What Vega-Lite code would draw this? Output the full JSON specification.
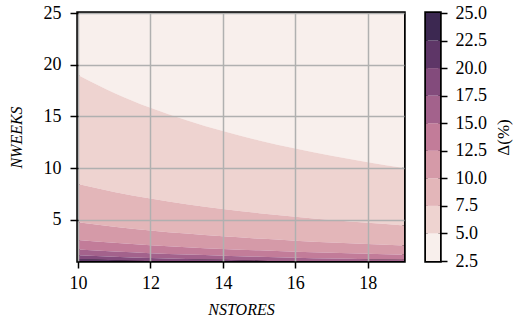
{
  "$schema": "https://vega.github.io/schema/vega-lite/v6.json",
  "background": "white",
  "padding": {"left": 6, "top": 2, "right": 2, "bottom": 2},
  "spacing": 18,
  "datasets": {
    "bands": [
      {"band": "2.5–5.0", "x": 10, "lo": 19.00, "hi": 25},
      {"band": "2.5–5.0", "x": 11, "lo": 17.27, "hi": 25},
      {"band": "2.5–5.0", "x": 12, "lo": 15.83, "hi": 25},
      {"band": "2.5–5.0", "x": 13, "lo": 14.62, "hi": 25},
      {"band": "2.5–5.0", "x": 14, "lo": 13.57, "hi": 25},
      {"band": "2.5–5.0", "x": 15, "lo": 12.67, "hi": 25},
      {"band": "2.5–5.0", "x": 16, "lo": 11.88, "hi": 25},
      {"band": "2.5–5.0", "x": 17, "lo": 11.18, "hi": 25},
      {"band": "2.5–5.0", "x": 18, "lo": 10.56, "hi": 25},
      {"band": "2.5–5.0", "x": 19, "lo": 10.00, "hi": 25},
      {"band": "5.0–7.5", "x": 10, "lo": 8.44, "hi": 19.00},
      {"band": "5.0–7.5", "x": 11, "lo": 7.68, "hi": 17.27},
      {"band": "5.0–7.5", "x": 12, "lo": 7.04, "hi": 15.83},
      {"band": "5.0–7.5", "x": 13, "lo": 6.50, "hi": 14.62},
      {"band": "5.0–7.5", "x": 14, "lo": 6.03, "hi": 13.57},
      {"band": "5.0–7.5", "x": 15, "lo": 5.63, "hi": 12.67},
      {"band": "5.0–7.5", "x": 16, "lo": 5.28, "hi": 11.88},
      {"band": "5.0–7.5", "x": 17, "lo": 4.97, "hi": 11.18},
      {"band": "5.0–7.5", "x": 18, "lo": 4.69, "hi": 10.56},
      {"band": "5.0–7.5", "x": 19, "lo": 4.44, "hi": 10.00},
      {"band": "7.5–10.0", "x": 10, "lo": 4.75, "hi": 8.44},
      {"band": "7.5–10.0", "x": 11, "lo": 4.32, "hi": 7.68},
      {"band": "7.5–10.0", "x": 12, "lo": 3.96, "hi": 7.04},
      {"band": "7.5–10.0", "x": 13, "lo": 3.65, "hi": 6.50},
      {"band": "7.5–10.0", "x": 14, "lo": 3.39, "hi": 6.03},
      {"band": "7.5–10.0", "x": 15, "lo": 3.17, "hi": 5.63},
      {"band": "7.5–10.0", "x": 16, "lo": 2.97, "hi": 5.28},
      {"band": "7.5–10.0", "x": 17, "lo": 2.79, "hi": 4.97},
      {"band": "7.5–10.0", "x": 18, "lo": 2.64, "hi": 4.69},
      {"band": "7.5–10.0", "x": 19, "lo": 2.50, "hi": 4.44},
      {"band": "10.0–12.5", "x": 10, "lo": 3.04, "hi": 4.75},
      {"band": "10.0–12.5", "x": 11, "lo": 2.76, "hi": 4.32},
      {"band": "10.0–12.5", "x": 12, "lo": 2.53, "hi": 3.96},
      {"band": "10.0–12.5", "x": 13, "lo": 2.34, "hi": 3.65},
      {"band": "10.0–12.5", "x": 14, "lo": 2.17, "hi": 3.39},
      {"band": "10.0–12.5", "x": 15, "lo": 2.03, "hi": 3.17},
      {"band": "10.0–12.5", "x": 16, "lo": 1.90, "hi": 2.97},
      {"band": "10.0–12.5", "x": 17, "lo": 1.79, "hi": 2.79},
      {"band": "10.0–12.5", "x": 18, "lo": 1.69, "hi": 2.64},
      {"band": "10.0–12.5", "x": 19, "lo": 1.60, "hi": 2.50},
      {"band": "12.5–15.0", "x": 10, "lo": 2.11, "hi": 3.04},
      {"band": "12.5–15.0", "x": 11, "lo": 1.92, "hi": 2.76},
      {"band": "12.5–15.0", "x": 12, "lo": 1.76, "hi": 2.53},
      {"band": "12.5–15.0", "x": 13, "lo": 1.62, "hi": 2.34},
      {"band": "12.5–15.0", "x": 14, "lo": 1.51, "hi": 2.17},
      {"band": "12.5–15.0", "x": 15, "lo": 1.41, "hi": 2.03},
      {"band": "12.5–15.0", "x": 16, "lo": 1.32, "hi": 1.90},
      {"band": "12.5–15.0", "x": 17, "lo": 1.24, "hi": 1.79},
      {"band": "12.5–15.0", "x": 18, "lo": 1.17, "hi": 1.69},
      {"band": "12.5–15.0", "x": 19, "lo": 1.11, "hi": 1.60},
      {"band": "15.0–17.5", "x": 10, "lo": 1.55, "hi": 2.11},
      {"band": "15.0–17.5", "x": 11, "lo": 1.41, "hi": 1.92},
      {"band": "15.0–17.5", "x": 12, "lo": 1.29, "hi": 1.76},
      {"band": "15.0–17.5", "x": 13, "lo": 1.19, "hi": 1.62},
      {"band": "15.0–17.5", "x": 14, "lo": 1.11, "hi": 1.51},
      {"band": "15.0–17.5", "x": 15, "lo": 1.03, "hi": 1.41},
      {"band": "15.0–17.5", "x": 16, "lo": 0.97, "hi": 1.32},
      {"band": "15.0–17.5", "x": 17, "lo": 0.91, "hi": 1.24},
      {"band": "15.0–17.5", "x": 18, "lo": 0.86, "hi": 1.17},
      {"band": "15.0–17.5", "x": 19, "lo": 0.82, "hi": 1.11},
      {"band": "17.5–20.0", "x": 10, "lo": 1.19, "hi": 1.55},
      {"band": "17.5–20.0", "x": 11, "lo": 1.08, "hi": 1.41},
      {"band": "17.5–20.0", "x": 12, "lo": 0.99, "hi": 1.29},
      {"band": "17.5–20.0", "x": 13, "lo": 0.91, "hi": 1.19},
      {"band": "17.5–20.0", "x": 14, "lo": 0.85, "hi": 1.11},
      {"band": "17.5–20.0", "x": 15, "lo": 0.79, "hi": 1.03},
      {"band": "17.5–20.0", "x": 16, "lo": 0.74, "hi": 0.97},
      {"band": "17.5–20.0", "x": 17, "lo": 0.70, "hi": 0.91},
      {"band": "17.5–20.0", "x": 18, "lo": 0.66, "hi": 0.86},
      {"band": "17.5–20.0", "x": 19, "lo": 0.63, "hi": 0.82},
      {"band": "20.0–22.5", "x": 10, "lo": 0.94, "hi": 1.19},
      {"band": "20.0–22.5", "x": 11, "lo": 0.85, "hi": 1.08},
      {"band": "20.0–22.5", "x": 12, "lo": 0.78, "hi": 0.99},
      {"band": "20.0–22.5", "x": 13, "lo": 0.72, "hi": 0.91},
      {"band": "20.0–22.5", "x": 14, "lo": 0.67, "hi": 0.85},
      {"band": "20.0–22.5", "x": 15, "lo": 0.63, "hi": 0.79},
      {"band": "20.0–22.5", "x": 16, "lo": 0.59, "hi": 0.74},
      {"band": "20.0–22.5", "x": 17, "lo": 0.55, "hi": 0.70},
      {"band": "20.0–22.5", "x": 18, "lo": 0.52, "hi": 0.66},
      {"band": "20.0–22.5", "x": 19, "lo": 0.49, "hi": 0.63}
    ],
    "bar": [
      {"band": "2.5–5.0", "lo": 2.5, "hi": 5.0},
      {"band": "5.0–7.5", "lo": 5.0, "hi": 7.5},
      {"band": "7.5–10.0", "lo": 7.5, "hi": 10.0},
      {"band": "10.0–12.5", "lo": 10.0, "hi": 12.5},
      {"band": "12.5–15.0", "lo": 12.5, "hi": 15.0},
      {"band": "15.0–17.5", "lo": 15.0, "hi": 17.5},
      {"band": "17.5–20.0", "lo": 17.5, "hi": 20.0},
      {"band": "20.0–22.5", "lo": 20.0, "hi": 22.5},
      {"band": "22.5–25.0", "lo": 22.5, "hi": 25.0}
    ]
  },
  "hconcat": [
    {
      "width": 326,
      "height": 248,
      "data": {"name": "bands"},
      "mark": {"type": "area", "interpolate": "monotone", "clip": true, "orient": "vertical"},
      "encoding": {
        "x": {"field": "x", "type": "quantitative",
              "scale": {"domain": [10, 19], "nice": false, "zero": false},
              "axis": {"values": [10, 12, 14, 16, 18], "title": "NSTORES", "grid": true, "zindex": 1, "labelFlush": false, "titlePadding": 9}},
        "y": {"field": "lo", "type": "quantitative",
              "scale": {"domain": [1, 25], "nice": false, "zero": false},
              "axis": {"values": [5, 10, 15, 20, 25], "title": "NWEEKS", "grid": true, "zindex": 1, "tickSize": 8, "labelPadding": 9, "titlePadding": 19}},
        "y2": {"field": "hi"},
        "color": {"field": "band", "type": "nominal", "legend": null,
                  "scale": {"domain": ["2.5–5.0", "5.0–7.5", "7.5–10.0", "10.0–12.5", "12.5–15.0", "15.0–17.5", "17.5–20.0", "20.0–22.5", "22.5–25.0"],
                            "range": ["#f8efec", "#eed3d0", "#e3b6b9", "#d59aa8", "#c27c99", "#a3628c", "#834b7c", "#5e3667", "#3c2851"]}}
      }
    },
    {
      "width": 14,
      "height": 248,
      "data": {"name": "bar"},
      "mark": {"type": "rect"},
      "encoding": {
        "y": {"field": "lo", "type": "quantitative",
              "scale": {"domain": [2.5, 25], "nice": false, "zero": false},
              "axis": {"orient": "right", "values": [2.5, 5, 7.5, 10, 12.5, 15, 17.5, 20, 22.5, 25], "format": ".1f", "zindex": 1,
                       "grid": false, "title": "Δ(%)", "titleFontStyle": "normal", "titleFontSize": 17, "titleAngle": 270, "titleBaseline": "top", "labelPadding": 8, "titlePadding": 9}},
        "y2": {"field": "hi"},
        "color": {"field": "band", "type": "nominal", "legend": null,
                  "scale": {"domain": ["2.5–5.0", "5.0–7.5", "7.5–10.0", "10.0–12.5", "12.5–15.0", "15.0–17.5", "17.5–20.0", "20.0–22.5", "22.5–25.0"],
                            "range": ["#f8efec", "#eed3d0", "#e3b6b9", "#d59aa8", "#c27c99", "#a3628c", "#834b7c", "#5e3667", "#3c2851"]}}
      }
    }
  ],
  "config": {
    "font": "Liberation Serif",
    "view": {"stroke": "black", "strokeWidth": 3.5},
    "axis": {
      "labelFont": "Liberation Serif", "labelFontSize": 18, "labelColor": "black",
      "titleFont": "Liberation Serif", "titleFontSize": 16, "titleFontWeight": "normal", "titleFontStyle": "italic", "titleColor": "black",
      "tickColor": "black", "tickSize": 7, "tickWidth": 1.5, "domain": false,
      "gridColor": "#b0b0b0", "gridWidth": 1.5, "gridOpacity": 1, "labelPadding": 6
    }
  }
}
